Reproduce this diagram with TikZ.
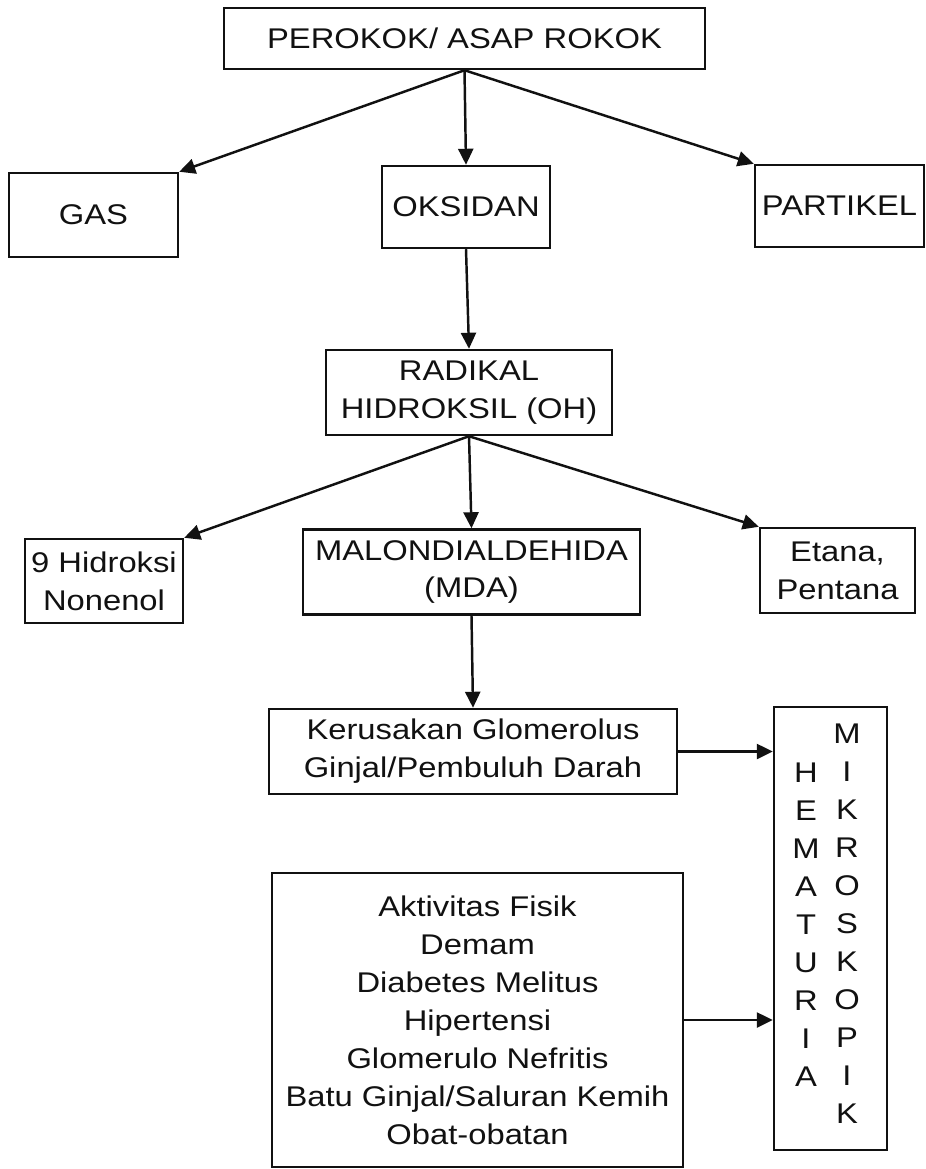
\documentclass[tikz,border=0pt]{standalone}
\usepackage{fontspec}
\setsansfont{Liberation Sans}[FakeStretch=1.15]
\usetikzlibrary{arrows.meta,positioning,calc}
\definecolor{paper}{HTML}{FFFFFF}
\definecolor{ink}{HTML}{111111}
\newcommand{\RowTop}{-0.77}
\newcommand{\RowOne}{-4.14}
\newcommand{\RowTwo}{-7.85}
\newcommand{\RowThree}{-11.44}
\newcommand{\RowFour}{-15.03}
\newcommand{\MidX}{9.32}

\begin{document}
\begin{tikzpicture}[
    font=\sffamily\fontsize{16.2}{21.6}\selectfont, ink,
    edge/.style={-{Triangle[length=3.2mm, width=3.0mm]}, line width=1.4pt, draw=ink},
    box/.style={draw=ink, line width=1.4pt, fill=paper, align=center, inner sep=0pt},
    letters/.style={align=center, inner sep=0pt},
  ]
\useasboundingbox (0,0) rectangle (18.5,-23.38);
\fill[paper] (0,0) rectangle (18.5,-23.38);

% --- The source ---------------------------------------------------------------
\node[box, minimum width=9.62cm, minimum height=1.22cm] (smoke) at (9.29, \RowTop) {PEROKOK/ ASAP ROKOK};

% --- What the smoke carries ---------------------------------------------------
\node[box, minimum width=3.38cm, minimum height=1.68cm] (gas) at (1.87, -4.30) {GAS};
\node[box, minimum width=3.36cm, minimum height=1.64cm] (oxid) at (\MidX, \RowOne) {OKSIDAN};
\node[box, minimum width=3.38cm, minimum height=1.64cm] (part) at (16.79, -4.12) {PARTIKEL};
\draw[edge] (smoke.south) -- (gas.north east);
\draw[edge] (smoke.south) -- (oxid.north);
\draw[edge] (smoke.south) -- (part.north west);

% --- The radical and what it leaves -------------------------------------------
\node[box, minimum width=5.72cm, minimum height=1.70cm] (radical) at (9.38, \RowTwo) {RADIKAL\\HIDROKSIL (OH)};
\draw[edge] (oxid.south) -- (radical.north);

\node[box, minimum width=3.16cm, minimum height=1.68cm] (hnonenol) at (2.08, -11.62) {9 Hidroksi\\Nonenol};
\node[box, minimum width=6.74cm, minimum height=1.70cm] (mda) at (9.43, \RowThree) {MALONDIALDEHIDA\\(MDA)};
\node[box, minimum width=3.10cm, minimum height=1.70cm] (ethane) at (16.75, -11.41) {Etana,\\Pentana};
\draw[edge] (radical.south) -- (hnonenol.north east);
\draw[edge] (radical.south) -- (mda.north);
\draw[edge] (radical.south) -- (ethane.north west);

% --- Damage, other causes, and the outcome ------------------------------------
\node[box, minimum width=8.16cm, minimum height=1.70cm] (damage) at (9.46, \RowFour) {Kerusakan Glomerolus\\Ginjal/Pembuluh Darah};
\draw[edge] (mda.south) -- (damage.north);

\node[box, minimum width=8.22cm, minimum height=5.88cm] (causes) at (9.55, -20.40)
  {Aktivitas Fisik\\Demam\\Diabetes Melitus\\Hipertensi\\Glomerulo Nefritis\\Batu Ginjal/Saluran Kemih\\Obat-obatan};

\node[box, minimum width=2.26cm, minimum height=8.86cm] (hematuria) at (16.61, -18.57) {};
\node[letters] (hemword) at (16.12, -18.49) {H\\E\\M\\A\\T\\U\\R\\I\\A};
\node[letters] (mikword) at (16.94, -18.47) {M\\I\\K\\R\\O\\S\\K\\O\\P\\I\\K};

\draw[edge] (damage.east) -- (damage.east -| hematuria.west);
\draw[edge] (causes.east) -- (causes.east -| hematuria.west);

\end{tikzpicture}
\end{document}
